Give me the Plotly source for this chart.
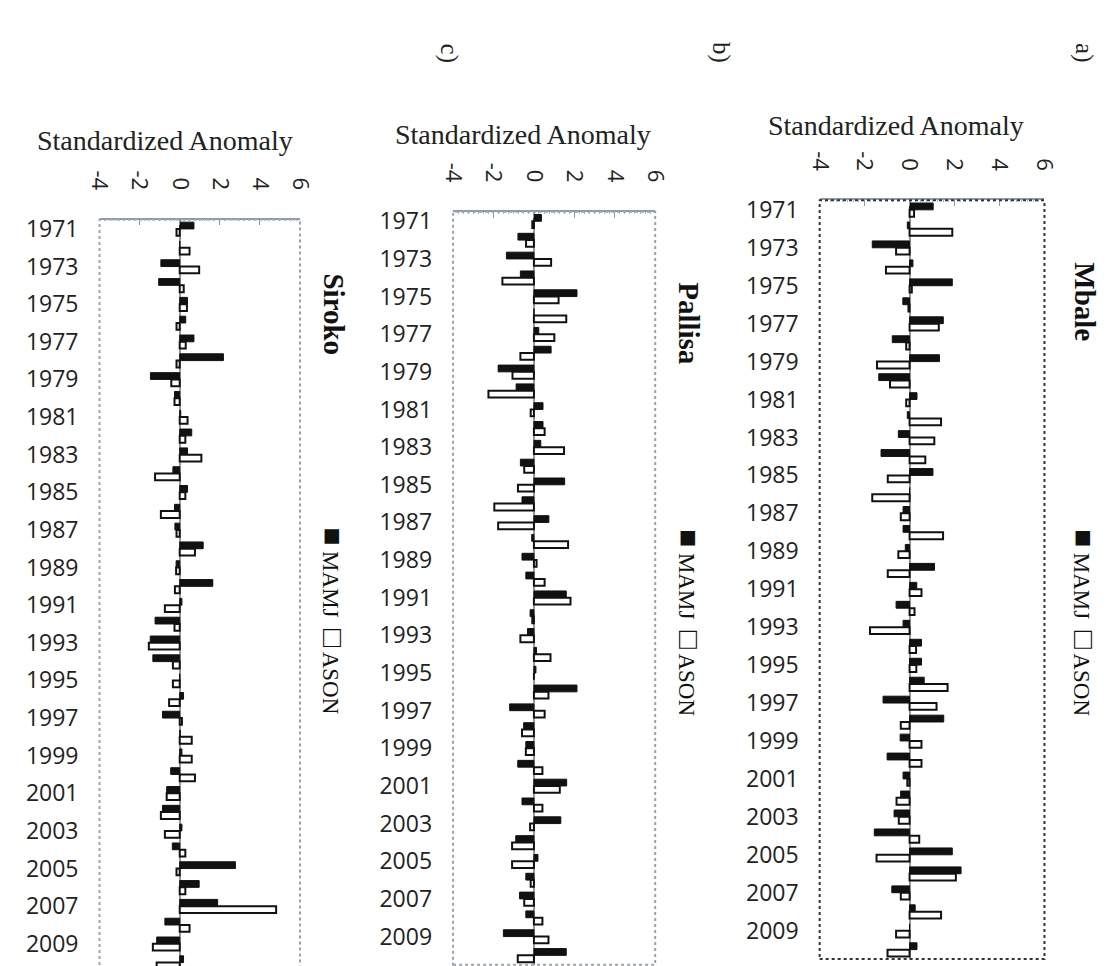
import plotly.graph_objects as go

years = list(range(1971, 2011))
tick_years = list(range(1971, 2010, 2))
tick_text = [str(y) for y in tick_years]
x_ticks = [-4, -2, 0, 2, 4, 6]

mbale_mamj = [1.05, -0.1, -1.66, 0.15, 1.9, -0.3, 1.5, -0.77, 1.33, -1.37,
              0.33, -0.1, -0.5, -1.27, 1.04, 0.0, -0.29, -0.29, -0.19, 1.11,
              0.32, -0.6, -0.29, 0.53, 0.53, 0.65, -1.18, 1.52, -0.42, -1.0,
              -0.29, -0.4, -0.69, -1.57, 1.9, 2.29, -0.79, 0.25, 0.0, 0.33]
mbale_ason = [0.2, 1.9, -0.6, -1.05, 0.1, -0.05, 1.3, -0.15, -1.45, -0.87,
              -0.15, 1.4, 1.1, 0.7, -0.97, -1.66, -0.39, 1.49, -0.5, -0.97,
              0.53, 0.22, -1.76, 0.29, 0.3, 1.69, 1.2, -0.39, 0.53, 0.53,
              -0.1, -0.58, -0.48, 0.43, -1.47, 2.06, -0.39, 1.4, -0.6, -0.98]

pallisa_mamj = [0.37, -0.79, -1.36, -0.67, 2.13, 0.0, 0.24, 0.85, -1.77, -0.88,
                0.45, 0.45, 0.34, -0.67, 1.52, -0.59, 0.74, -0.11, -0.59, -0.4,
                1.6, -0.19, -0.32, 0.13, 0.1, 2.13, -1.2, -0.51, -0.4, -0.8,
                1.62, -0.59, 1.33, -0.9, 0.2, -0.4, -0.71, -0.4, -1.51, 1.6]
pallisa_ason = [-0.08, -0.39, 0.85, -1.56, 1.22, 1.6, 1.01, -0.67, -1.06, -2.25,
                -0.16, 0.53, 1.49, -0.48, -0.79, -1.96, -1.77, 1.69, 0.13, 0.53,
                1.81, -0.08, -0.67, 0.82, 0.0, 0.72, 0.53, -0.59, -0.4, 0.42,
                1.28, 0.42, -0.19, -1.08, -1.08, -0.16, -0.48, 0.42, 0.72, -0.8]

siroko_mamj = [0.71, 0.0, -0.94, -1.05, 0.39, 0.3, 0.71, 2.18, -1.46, -0.26,
               0.05, 0.6, 0.39, -0.34, 0.39, -0.26, -0.24, 1.17, -0.18, 1.65,
               0.11, -1.23, -1.47, -1.34, 0.0, 0.19, -0.86, 0.03, 0.11, -0.45,
               -0.65, -0.86, 0.11, -0.37, 2.78, 0.97, 1.89, -0.74, -1.15, 0.19]
siroko_ason = [-0.16, 0.49, 0.97, 0.2, 0.36, -0.16, 0.3, -0.16, -0.42, -0.26,
               0.39, 0.28, 1.08, -1.23, 0.28, -0.94, -0.16, 0.76, -0.18, -0.24,
               -0.74, -0.26, -1.54, -0.34, -0.34, -0.53, 0.11, 0.6, 0.6, 0.76,
               -0.65, -0.94, -0.74, 0.28, -0.16, 0.28, 4.81, 0.49, -1.34, -1.15]

W, H = 1117, 966

# panel geometry in pixels: (left, right, top, bottom)
panels = [
    dict(name="Siroko", mamj=siroko_mamj, ason=siroko_ason, ax="", px=(80.7, 286.7, 206, 964),
         frame="#9aa4ad", title_xy=(148, 126), name_xy=(322, 302), leg_xy=(321, 610)),
    dict(name="Pallisa", mamj=pallisa_mamj, ason=pallisa_ason, ax="2", px=(444, 651.7, 198.3, 956.7),
         frame="#9aa4ad", title_xy=(516, 120), name_xy=(687, 311), leg_xy=(687, 612)),
    dict(name="Mbale", mamj=mbale_mamj, ason=mbale_ason, ax="3", px=(820.7, 1051.7, 186.7, 951),
         frame="#333333", title_xy=(899, 111), name_xy=(1093, 289), leg_xy=(1093, 612)),
]

fig = go.Figure()
layout = dict(width=W, height=H, autosize=False, margin=dict(l=0, r=0, t=0, b=0),
              paper_bgcolor="white", plot_bgcolor="white", showlegend=False,
              barmode="group", bargap=0.28, bargroupgap=0.0)
shapes = []
annotations = []

for p in panels:
    ax = p["ax"]
    l, r, t, b = p["px"]
    fig.add_trace(go.Bar(y=years, x=p["mamj"], orientation="h", name="MAMJ",
                         marker=dict(color="#111111", line=dict(color="#111111", width=1)),
                         xaxis="x" + ax, yaxis="y" + ax))
    fig.add_trace(go.Bar(y=years, x=p["ason"], orientation="h", name="ASON",
                         marker=dict(color="white", line=dict(color="#111111", width=2)),
                         xaxis="x" + ax, yaxis="y" + ax))
    layout["xaxis" + ax] = dict(
        domain=[l / W, r / W], anchor="y" + ax, side="top", range=[-4, 6],
        tickvals=x_ticks, ticktext=[str(v) for v in x_ticks], tickangle=90,
        tickfont=dict(family="Open Sans", size=22, color="#222222"),
        showline=True, linecolor="#8d9aa6", linewidth=1.5,
        ticks="inside", ticklen=6, tickcolor="#8d9aa6",
        minor=dict(ticks="inside", ticklen=2, dtick=0.25, tickcolor="#a8b2bb"),
        showgrid=False, zeroline=True, zerolinecolor="#8d9aa6", zerolinewidth=1.5,
        ticklabelstandoff=20, fixedrange=True)
    layout["yaxis" + ax] = dict(
        domain=[1 - b / H, 1 - t / H], anchor="x" + ax, range=[2010.5, 1970.5],
        tickvals=tick_years, ticktext=tick_text,
        tickfont=dict(family="Open Sans", size=23, color="#222222"),
        showline=False, ticks="", showgrid=False, zeroline=False,
        ticklabelstandoff=20, fixedrange=True)
    xref = "x" + ax + " domain" if ax else "x domain"
    yref = "y" + ax + " domain" if ax else "y domain"
    shapes.append(dict(type="rect", xref=xref, yref=yref, x0=0, x1=1, y0=0, y1=1,
                       line=dict(color=p["frame"], width=2, dash="dot"), layer="above"))
    annotations.append(dict(text="Standardized Anomaly", x=p["title_xy"][0] / W, y=1 - p["title_xy"][1] / H,
                            xref="paper", yref="paper", showarrow=False, xanchor="center", yanchor="middle",
                            font=dict(family="Liberation Serif", size=28, color="#222222")))
    annotations.append(dict(text="<b>" + p["name"] + "</b>", x=p["name_xy"][0] / W, y=1 - p["name_xy"][1] / H,
                            xref="paper", yref="paper", showarrow=False, textangle=90,
                            xanchor="center", yanchor="middle",
                            font=dict(family="Liberation Serif", size=29, color="#111111")))
    annotations.append(dict(text="<span style='font-size:30px'>\u25a0</span> MAMJ  <span style='font-size:30px'>\u25a1</span> ASON",
                            x=p["leg_xy"][0] / W, y=1 - p["leg_xy"][1] / H,
                            xref="paper", yref="paper", showarrow=False, textangle=90,
                            xanchor="center", yanchor="middle",
                            font=dict(family="Liberation Serif", size=23, color="#111111")))

for lab, xp in [("a)", 1093), ("b)", 720), ("c)", 440)]:
    annotations.append(dict(text=lab, x=xp / W, y=1 - 38 / H, xref="paper", yref="paper",
                            showarrow=False, textangle=90, xanchor="center", yanchor="middle",
                            font=dict(family="Liberation Serif", size=25, color="#222222")))

layout["shapes"] = shapes
layout["annotations"] = annotations
fig.update_layout(**layout)
fig.write_html("out.html")
